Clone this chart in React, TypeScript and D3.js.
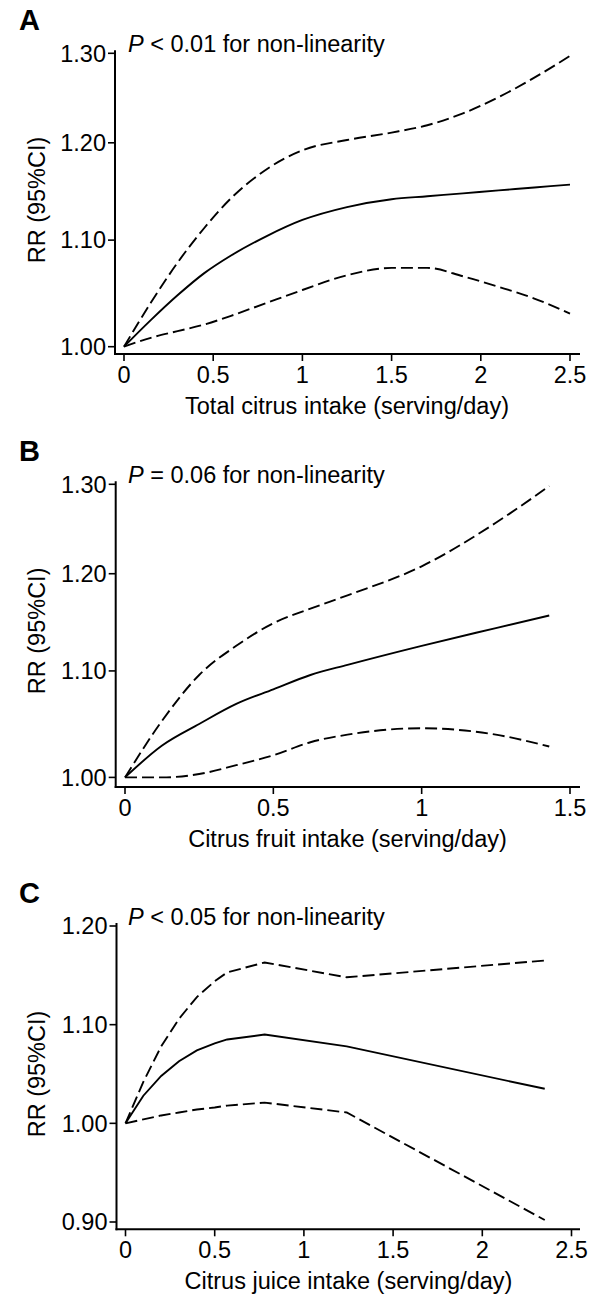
import React from 'react';
import * as d3 from 'd3';

// ---------- data ----------
// Panel A: total citrus intake
const aIntake = [0, 0.15, 0.3, 0.45, 0.6, 0.8, 1.0, 1.25, 1.5, 1.7, 1.9, 2.1, 2.3, 2.5];
const aRR = [1.0, 1.024, 1.047, 1.068, 1.085, 1.104, 1.12, 1.133, 1.141, 1.144, 1.147, 1.15, 1.153, 1.156];
const aLower = [1.0, 1.008, 1.014, 1.02, 1.028, 1.04, 1.052, 1.066, 1.073, 1.073, 1.065, 1.055, 1.044, 1.03];
const aUpper = [1.0, 1.04, 1.078, 1.112, 1.142, 1.172, 1.192, 1.203, 1.211, 1.219, 1.232, 1.25, 1.272, 1.297];
const aYTicks = [1.0, 1.1, 1.2, 1.3];
const aXTicks = [0, 0.5, 1, 1.5, 2, 2.5];

// Panel B: citrus fruit intake
const bIntake = [0, 0.125, 0.25, 0.375, 0.5, 0.625, 0.75, 1.0, 1.25, 1.43];
const bRR = [1.0, 1.029, 1.049, 1.068, 1.082, 1.096, 1.106, 1.125, 1.143, 1.156];
const bLower = [1.0, 1.0, 1.003, 1.011, 1.02, 1.032, 1.039, 1.045, 1.039, 1.028];
const bUpper = [1.0, 1.052, 1.096, 1.125, 1.148, 1.163, 1.177, 1.208, 1.256, 1.298];
const bYTicks = [1.0, 1.1, 1.2, 1.3];
const bXTicks = [0, 0.5, 1, 1.5];

// Panel C: citrus juice intake
const cIntake = [0, 0.1, 0.2, 0.3, 0.4, 0.5, 0.57, 0.78, 1.24, 2.35];
const cRR = [1.0, 1.028, 1.048, 1.063, 1.074, 1.081, 1.085, 1.09, 1.078, 1.035];
const cLower = [1.0, 1.004, 1.008, 1.011, 1.014, 1.016, 1.018, 1.021, 1.011, 0.902];
const cUpper = [1.0, 1.042, 1.078, 1.106, 1.128, 1.144, 1.153, 1.163, 1.148, 1.165];
const cYTicks = [0.9, 1.0, 1.1, 1.2];
const cXTicks = [0, 0.5, 1, 1.5, 2, 2.5];

const panelLetters = ['A', 'B', 'C'];
const pTexts = [' < 0.01 for non-linearity', ' = 0.06 for non-linearity', ' < 0.05 for non-linearity'];
const xTitles = [
  'Total citrus intake (serving/day)',
  'Citrus fruit intake (serving/day)',
  'Citrus juice intake (serving/day)',
];
const yTitle = 'RR (95%CI)';

// ---------- layout ----------
const W = 591;
const H = 1297;
const FONT = "'Liberation Sans', Arial, Helvetica, sans-serif";
const FS = 23.5;

type PanelProps = {
  letter: string;
  pText: string;
  xTitle: string;
  intake: number[];
  rr: number[];
  lower: number[];
  upper: number[];
  yTicks: number[];
  xTicks: number[];
  yScale: any;
  xScale: any;
  axisX: number;
  xAxisY: number;
  curve: any;
};

function Panel(p: PanelProps) {
  const { yScale, xScale, axisX, xAxisY } = p;
  const yTop = yScale(p.yTicks[p.yTicks.length - 1]);
  const yBottom = yScale(p.yTicks[0]);
  const line = d3
    .line<number>()
    .x((_, i) => xScale(p.intake[i]))
    .y((d) => yScale(d))
    .curve(p.curve);
  const xEnd = 580;
  return (
    <g>
      <text x={19} y={yTop - 23} fontSize={29} fontWeight="bold" fontFamily={FONT}>
        {p.letter}
      </text>
      <text x={128} y={yTop - 1} fontSize={FS} fontFamily={FONT}>
        <tspan fontStyle="italic">P</tspan>
        {p.pText}
      </text>
      <line x1={axisX} x2={axisX} y1={yTop - 3} y2={xAxisY + 1} stroke="#000" strokeWidth={2} />
      {p.yTicks.map((t) => (
        <g key={'y' + t}>
          <line x1={axisX - 7} x2={axisX} y1={yScale(t)} y2={yScale(t)} stroke="#000" strokeWidth={1.6} />
          <text
            x={axisX - 9}
            y={yScale(t)}
            dy="0.35em"
            textAnchor="end"
            fontSize={FS}
            fontFamily={FONT}
          >
            {t.toFixed(2)}
          </text>
        </g>
      ))}
      <text
        transform={`translate(45, ${(yTop + yBottom) / 2}) rotate(-90)`}
        textAnchor="middle"
        fontSize={FS}
        fontFamily={FONT}
      >
        {yTitle}
      </text>
      <line x1={axisX - 1} x2={xEnd} y1={xAxisY} y2={xAxisY} stroke="#000" strokeWidth={2} />
      {p.xTicks.map((t) => (
        <g key={'x' + t}>
          <line x1={xScale(t)} x2={xScale(t)} y1={xAxisY} y2={xAxisY + 7} stroke="#000" strokeWidth={1.6} />
          <text x={xScale(t)} y={xAxisY + 28.5} textAnchor="middle" fontSize={FS} fontFamily={FONT}>
            {String(t)}
          </text>
        </g>
      ))}
      <text
        x={(xScale(p.xTicks[0]) + xScale(p.xTicks[p.xTicks.length - 1])) / 2}
        y={xAxisY + 60}
        textAnchor="middle"
        fontSize={FS}
        fontFamily={FONT}
      >
        {p.xTitle}
      </text>
      <path d={line(p.upper) || ''} fill="none" stroke="#000" strokeWidth={1.9} strokeDasharray="12,5" />
      <path d={line(p.lower) || ''} fill="none" stroke="#000" strokeWidth={1.9} strokeDasharray="12,5" />
      <path d={line(p.rr) || ''} fill="none" stroke="#000" strokeWidth={1.9} />
    </g>
  );
}

export default function App() {
  const yA = d3.scaleLog().domain([1.0, 1.3]).range([346.7, 53.3]);
  const xA = d3.scaleLinear().domain([0, 2.5]).range([124, 570]);
  const yB = d3.scaleLog().domain([1.0, 1.3]).range([777.4, 484.3]);
  const xB = d3.scaleLinear().domain([0, 1.5]).range([125, 570]);
  const yC = d3.scaleLinear().domain([0.9, 1.2]).range([1222, 926]);
  const xC = d3.scaleLinear().domain([0, 2.5]).range([125.5, 571.5]);

  return (
    <svg
      width={W}
      height={H}
      viewBox={`0 0 ${W} ${H}`}
      style={{ position: 'absolute', left: 0, top: 0, background: '#fff' }}
    >
      <rect x={0} y={0} width={W} height={H} fill="#fff" />
      <Panel
        letter={panelLetters[0]}
        pText={pTexts[0]}
        xTitle={xTitles[0]}
        intake={aIntake}
        rr={aRR}
        lower={aLower}
        upper={aUpper}
        yTicks={aYTicks}
        xTicks={aXTicks}
        yScale={yA}
        xScale={xA}
        axisX={115}
        xAxisY={354}
        curve={d3.curveMonotoneX}
      />
      <Panel
        letter={panelLetters[1]}
        pText={pTexts[1]}
        xTitle={xTitles[1]}
        intake={bIntake}
        rr={bRR}
        lower={bLower}
        upper={bUpper}
        yTicks={bYTicks}
        xTicks={bXTicks}
        yScale={yB}
        xScale={xB}
        axisX={115.7}
        xAxisY={787}
        curve={d3.curveMonotoneX}
      />
      <Panel
        letter={panelLetters[2]}
        pText={pTexts[2]}
        xTitle={xTitles[2]}
        intake={cIntake}
        rr={cRR}
        lower={cLower}
        upper={cUpper}
        yTicks={cYTicks}
        xTicks={cXTicks}
        yScale={yC}
        xScale={xC}
        axisX={116.5}
        xAxisY={1229.3}
        curve={d3.curveLinear}
      />
    </svg>
  );
}
